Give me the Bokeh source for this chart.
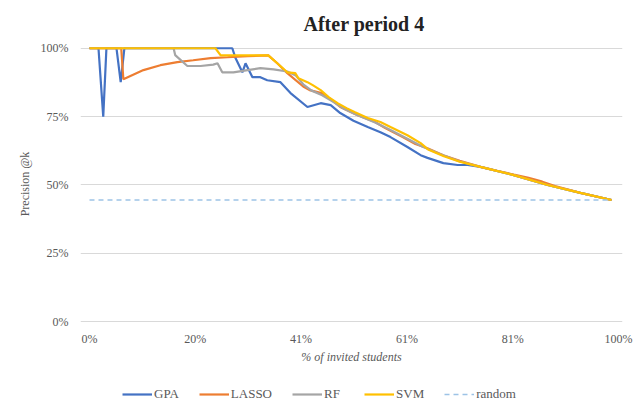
from bokeh.plotting import figure
from bokeh.layouts import column
from bokeh.models import Range1d, FixedTicker, Legend, LegendItem, PrintfTickFormatter
from bokeh.embed import file_html
from bokeh.resources import INLINE

# --- data (x: % of invited students, y: precision @k in %) ---
gpa_x = [0, 1.7, 2.6, 3.2, 5.1, 5.9, 6.6, 27.0, 27.6, 28.9, 29.5, 30.8, 32.3, 33.6, 36.1, 38.0,
         41.2, 43.7, 45.6, 47.4, 49.9, 52.6, 55.0, 56.9, 60.1, 62.6, 63.9, 66.9, 69.6, 71.5,
         73.9, 80.2, 86.6, 92.8, 98.7]
gpa_y = [100, 100, 75, 100, 100, 87.6, 100, 100, 96.4, 91.2, 94.5, 89.4, 89.4, 88.3, 87.6, 83.6,
         78.5, 79.9, 79.2, 76.3, 73.5, 71.2, 69.3, 67.5, 63.9, 60.9, 59.9, 58.0, 57.3, 57.3,
         56.6, 53.6, 50.0, 47.1, 44.5]

lasso_x = [0, 6.0, 6.4, 10.2, 13.4, 16.6, 19.6, 22.9, 26.1, 29.9, 33.8, 35.5, 37.4, 40.4, 41.6,
           43.9, 45.6, 47.4, 50.7, 54.0, 55.9, 59.2, 61.6, 64.0, 67.0, 70.0, 73.9, 77.0, 80.2,
           83.0, 85.6, 88.0, 92.8, 98.7]
lasso_y = [100, 100, 88.7, 92.0, 93.8, 94.9, 95.6, 96.4, 96.7, 97.1, 97.4, 94.5, 90.9, 86.0, 84.7,
           83.6, 81.4, 78.5, 75.5, 73.0, 70.8, 67.5, 65.0, 63.3, 60.8, 58.8, 56.6, 55.2, 53.8,
           52.6, 51.2, 49.6, 47.1, 44.5]

rf_x = [0, 15.9, 16.2, 18.5, 21.0, 23.4, 24.2, 25.1, 27.2, 29.9, 32.3, 34.8, 37.4, 39.0, 40.4,
        42.0, 44.0, 46.0, 48.0, 50.7, 54.0, 57.0, 60.0, 63.0, 66.0, 70.0, 73.9, 80.2, 86.6,
        92.8, 98.7]
rf_y = [100, 100, 97.5, 93.5, 93.5, 94.0, 94.5, 91.2, 91.2, 92.0, 92.7, 92.3, 91.5, 90.0, 86.8,
        84.5, 82.8, 80.5, 78.0, 75.5, 72.8, 70.0, 67.0, 64.0, 61.5, 58.6, 56.6, 53.6, 50.0,
        47.1, 44.5]

svm_x = [0, 23.8, 24.8, 33.8, 35.5, 37.4, 38.9, 39.5, 41.2, 42.2, 43.7, 45.2, 46.9, 48.6, 50.2,
         52.6, 55.0, 56.9, 60.1, 62.6, 64.0, 67.0, 70.0, 73.9, 80.2, 86.6, 92.8, 98.7]
svm_y = [100, 100, 97.4, 97.4, 94.5, 91.2, 90.9, 89.0, 87.6, 86.5, 84.7, 82.1, 79.9, 78.1, 76.6,
         74.5, 73.0, 71.2, 68.2, 65.3, 63.0, 60.5, 58.5, 56.6, 53.6, 50.0, 47.1, 44.5]

random_x = [0, 98.7]
random_y = [44.5, 44.5]

x_tick_pos = [0, 20, 40, 60, 80, 100]
x_tick_labels = ["0%", "20%", "41%", "61%", "81%", "100%"]
y_tick_pos = [0, 25, 50, 75, 100]

series_names = ["GPA", "LASSO", "RF", "SVM", "random"]
series_colors = ["#4472C4", "#ED7D31", "#A5A5A5", "#FFC000", "#9DC3E6"]

SERIF = "Liberation Serif"
TXT = "#595959"

p = figure(width=641, height=380, output_backend="svg", toolbar_location=None,
           x_range=Range1d(-1.7, 100.76), y_range=Range1d(-0.3, 101.0),
           min_border_left=80, min_border_right=19, min_border_top=45, min_border_bottom=58)
p.outline_line_color = None
p.background_fill_color = "white"

p.title.text = "After period 4"
p.title.text_font = SERIF
p.title.text_font_size = "20px"
p.title.text_font_style = "bold"
p.title.text_color = "#222222"
p.title.align = "left"
p.title.offset = 223
p.title.standoff = 21

p.xgrid.grid_line_color = None
p.ygrid.grid_line_color = "#D9D9D9"
p.ygrid.grid_line_width = 1

p.xaxis.ticker = FixedTicker(ticks=x_tick_pos)
p.xaxis.major_label_overrides = {t: l for t, l in zip(x_tick_pos, x_tick_labels)}
p.yaxis.ticker = FixedTicker(ticks=y_tick_pos)
p.yaxis.formatter = PrintfTickFormatter(format="%d%%")

for ax in (p.xaxis, p.yaxis):
    ax.axis_line_color = None
    ax.major_tick_line_color = None
    ax.minor_tick_line_color = None
    ax.major_tick_out = 0
    ax.major_tick_in = 0
    ax.minor_tick_out = 0
    ax.minor_tick_in = 0
    ax.major_label_text_font = SERIF
    ax.major_label_text_font_size = "12px"
    ax.major_label_text_color = TXT
    ax.axis_label_text_font = SERIF
    ax.axis_label_text_font_size = "12px"
    ax.axis_label_text_color = TXT

p.xaxis.axis_label = "% of invited students"
p.xaxis.axis_label_text_font_style = "italic"
p.xaxis.major_label_standoff = 9
p.xaxis.axis_label_standoff = 1
p.yaxis.axis_label = "Precision @k"
p.yaxis.axis_label_text_font_style = "normal"
p.yaxis.major_label_standoff = 12
p.yaxis.axis_label_standoff = 6

data = [(gpa_x, gpa_y), (lasso_x, lasso_y), (rf_x, rf_y), (svm_x, svm_y), (random_x, random_y)]


def draw(fig, xs, ys, name, col):
    if name == "random":
        return fig.line(xs, ys, line_color=col, line_width=1.5, line_dash="5 4")
    return fig.line(xs, ys, line_color=col, line_width=2.2)


for (xs, ys), name, col in zip(data, series_names, series_colors):
    draw(p, xs, ys, name, col)

# legend strip below the chart: same line styles as the series (no points drawn in its frame)
lg = figure(width=641, height=32, output_backend="svg", toolbar_location=None,
            x_range=Range1d(0, 1), y_range=Range1d(0, 1),
            x_axis_type=None, y_axis_type=None,
            min_border_left=0, min_border_right=0, min_border_top=0, min_border_bottom=0)
lg.outline_line_color = None
lg.xgrid.visible = False
lg.ygrid.visible = False
items = []
for name, col in zip(series_names, series_colors):
    r = draw(lg, [float("nan")], [float("nan")], name, col)
    items.append(LegendItem(label=name, renderers=[r]))

legend = Legend(items=items, orientation="horizontal", location=(42, 10),
                glyph_width=30, glyph_height=16, label_standoff=2, spacing=20,
                padding=0, margin=0, border_line_color=None, background_fill_alpha=0,
                label_text_font=SERIF, label_text_font_size="13px", label_text_color=TXT,
                label_height=16)
lg.add_layout(legend, "center")

layout = column(p, lg, spacing=0)
open("out.html", "w").write(file_html(layout, INLINE))
